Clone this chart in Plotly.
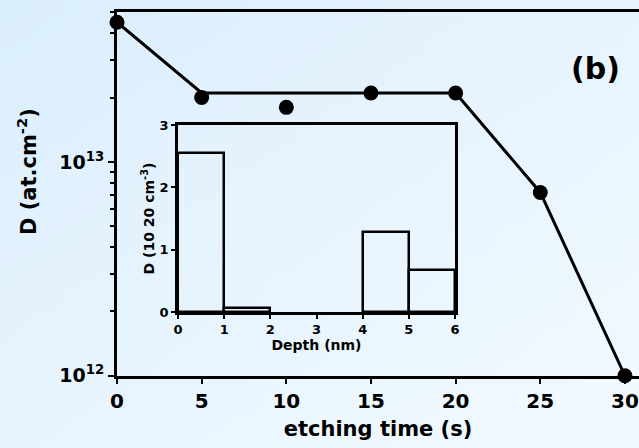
import base64
import struct
import zlib

import plotly.graph_objects as go

# Main data
etch_time = [0, 5, 10, 15, 20, 25, 30]
dose = [4.5e13, 2.0e13, 1.8e13, 2.1e13, 2.1e13, 7.2e12, 1.0e12]
# guide line
line_time = [0, 5, 20, 25, 30]
line_dose = [4.5e13, 2.1e13, 2.1e13, 7.2e12, 1.0e12]

# Inset data
depth_centers = [0.5, 1.5, 4.5, 5.5]
depth_conc = [2.55, 0.07, 1.28, 0.68]

x_ticks = [0, 5, 10, 15, 20, 25, 30]
y_tickvals = [1e12, 1e13]
y_ticktext = ["10<sup>12</sup>", "10<sup>13</sup>"]
minor_vals = [k * 1e12 for k in range(2, 10)] + [k * 1e13 for k in range(2, 6)]

W, H = 639, 448
ML, MR, MT, MB = 117, 0, 12, 72
PW, PH = W - ML - MR, H - MT - MB

BG = "#e6f4fd"
FONT = "DejaVu Sans"


def gradient_png(w, h, c0, c1):
    rows = b""
    for j in range(h):
        row = b"\x00"
        for i in range(w):
            t = (i / (w - 1) + j / (h - 1)) / 2
            row += bytes(int(round(c0[k] + (c1[k] - c0[k]) * t)) for k in range(3))
        rows += row

    def chunk(tag, data):
        c = struct.pack(">I", len(data)) + tag + data
        return c + struct.pack(">I", zlib.crc32(tag + data) & 0xFFFFFFFF)

    png = b"\x89PNG\r\n\x1a\n"
    png += chunk(b"IHDR", struct.pack(">IIBBBBB", w, h, 8, 2, 0, 0, 0))
    png += chunk(b"IDAT", zlib.compress(rows, 9))
    png += chunk(b"IEND", b"")
    return "data:image/png;base64," + base64.b64encode(png).decode()


bg_img = gradient_png(64, 45, (219, 238, 252), (243, 250, 255))

fig = go.Figure()
fig.add_trace(go.Scatter(x=line_time, y=line_dose, mode="lines",
                         line=dict(color="black", width=3), cliponaxis=False,
                         showlegend=False))
fig.add_trace(go.Scatter(x=etch_time, y=dose, mode="markers",
                         marker=dict(color="black", size=15), cliponaxis=False,
                         showlegend=False))
fig.add_trace(go.Bar(x=depth_centers, y=depth_conc, width=1,
                     marker=dict(color="rgba(0,0,0,0)", line=dict(color="black", width=2.5)),
                     xaxis="x2", yaxis="y2", showlegend=False))

bold = dict(family=FONT, color="black")


def px_x(px):
    return (px - ML) / PW


def px_y(py):
    return (H - MB - py) / PH


fig.update_layout(
    width=W, height=H,
    margin=dict(l=ML, r=MR, t=MT, b=MB, autoexpand=False),
    paper_bgcolor=BG, plot_bgcolor="rgba(0,0,0,0)",
    font=dict(family=FONT, color="black"),
    images=[dict(source=bg_img, xref="paper", yref="paper",
                 x=px_x(0), y=px_y(0), sizex=W / PW, sizey=H / PH,
                 xanchor="left", yanchor="top", sizing="stretch", layer="below")],
    xaxis=dict(range=[0, 30.83], tickvals=x_ticks, automargin=False,
               ticktext=[f"<b>{v}</b>" for v in x_ticks],
               tickfont=dict(size=20, **bold),
               showline=True, linecolor="black", linewidth=3, mirror=True,
               ticks="outside", ticklen=5, tickwidth=2, tickcolor="black",
               showgrid=False, zeroline=False,
               title=dict(text="<b>etching time (s)</b>", font=dict(size=21, **bold), standoff=10)),
    yaxis=dict(type="log", range=[11.999, 13.701], tickvals=y_tickvals, automargin=False,
               ticktext=[f"<b>{t}</b>" for t in y_ticktext],
               tickfont=dict(size=19, **bold),
               showline=True, linecolor="black", linewidth=3,
               ticks="outside", ticklen=6, tickwidth=2, tickcolor="black",
               minor=dict(tickvals=minor_vals, ticks="outside", ticklen=4, tickwidth=2, tickcolor="black"),
               showgrid=False, zeroline=False),
    xaxis2=dict(domain=[px_x(178), px_x(455)], anchor="y2", range=[0, 6],
                tickvals=[0, 1, 2, 3, 4, 5, 6],
                ticktext=[f"<b>{v}</b>" for v in range(7)],
                tickfont=dict(size=13, **bold),
                showline=True, linecolor="black", linewidth=2.5, mirror=True,
                ticks="outside", ticklen=4, tickwidth=2, tickcolor="black",
                showgrid=False, zeroline=False,
                title=dict(text="<b>Depth (nm)</b>", font=dict(size=14, **bold), standoff=2)),
    yaxis2=dict(domain=[px_y(312), px_y(125)], anchor="x2", range=[0, 3],
                tickvals=[0, 1, 2, 3],
                ticktext=[f"<b>{v}</b>" for v in range(4)],
                tickfont=dict(size=13, **bold),
                showline=True, linecolor="black", linewidth=2.5, mirror=True,
                ticks="outside", ticklen=4, tickwidth=2, tickcolor="black",
                showgrid=False, zeroline=False,
                title=dict(text="<b>D (10 20 cm<sup>-3</sup>)</b>", font=dict(size=14, **bold), standoff=2)),
    bargap=0,
    annotations=[
        dict(text="<b>(b)</b>", x=px_x(595), y=px_y(68), xref="paper", yref="paper",
             xanchor="center", yanchor="middle",
             showarrow=False, font=dict(size=30, **bold)),
        dict(text="<b>D (at.cm<sup>-2</sup>)</b>", x=px_x(27), y=px_y(172),
             xref="paper", yref="paper", xanchor="center", yanchor="middle",
             textangle=-90, showarrow=False, font=dict(size=21, **bold)),
    ],
)

fig.write_html("out.html")
